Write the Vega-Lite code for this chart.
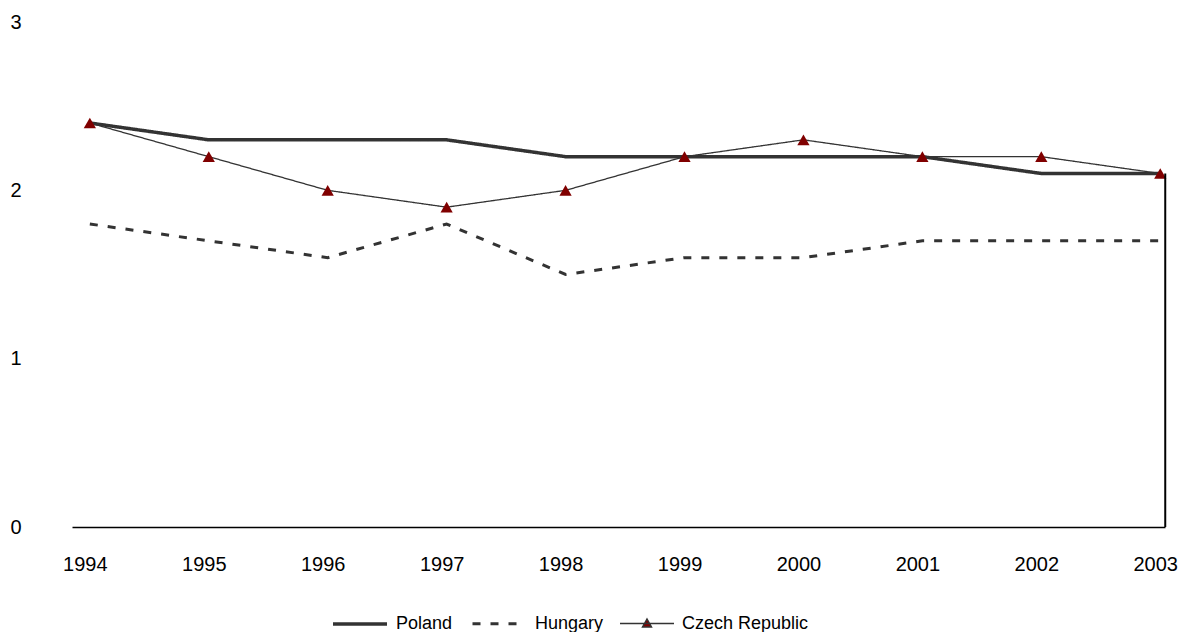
{
  "$schema": "https://vega.github.io/schema/vega-lite/v6.json",
  "autosize": {"type": "none"},
  "width": 1093,
  "height": 505,
  "padding": {"left": 72, "top": 22, "right": 16, "bottom": 105},
  "background": "white",
  "config": {
    "view": {"stroke": null},
    "font": "Liberation Sans",
    "axis": {"grid": false, "labelFont": "Liberation Sans", "labelColor": "#000000"},
    "legend": {"labelFont": "Liberation Sans"}
  },
  "data": {
    "values": [
      {"year": 1994, "country": "Poland", "value": 2.4},
      {"year": 1995, "country": "Poland", "value": 2.3},
      {"year": 1996, "country": "Poland", "value": 2.3},
      {"year": 1997, "country": "Poland", "value": 2.3},
      {"year": 1998, "country": "Poland", "value": 2.2},
      {"year": 1999, "country": "Poland", "value": 2.2},
      {"year": 2000, "country": "Poland", "value": 2.2},
      {"year": 2001, "country": "Poland", "value": 2.2},
      {"year": 2002, "country": "Poland", "value": 2.1},
      {"year": 2003, "country": "Poland", "value": 2.1},
      {"year": 1994, "country": "Hungary", "value": 1.8},
      {"year": 1995, "country": "Hungary", "value": 1.7},
      {"year": 1996, "country": "Hungary", "value": 1.6},
      {"year": 1997, "country": "Hungary", "value": 1.8},
      {"year": 1998, "country": "Hungary", "value": 1.5},
      {"year": 1999, "country": "Hungary", "value": 1.6},
      {"year": 2000, "country": "Hungary", "value": 1.6},
      {"year": 2001, "country": "Hungary", "value": 1.7},
      {"year": 2002, "country": "Hungary", "value": 1.7},
      {"year": 2003, "country": "Hungary", "value": 1.7},
      {"year": 1994, "country": "Czech Republic", "value": 2.4},
      {"year": 1995, "country": "Czech Republic", "value": 2.2},
      {"year": 1996, "country": "Czech Republic", "value": 2.0},
      {"year": 1997, "country": "Czech Republic", "value": 1.9},
      {"year": 1998, "country": "Czech Republic", "value": 2.0},
      {"year": 1999, "country": "Czech Republic", "value": 2.2},
      {"year": 2000, "country": "Czech Republic", "value": 2.3},
      {"year": 2001, "country": "Czech Republic", "value": 2.2},
      {"year": 2002, "country": "Czech Republic", "value": 2.2},
      {"year": 2003, "country": "Czech Republic", "value": 2.1}
    ]
  },
  "layer": [
    {
      "mark": {"type": "line", "strokeCap": "butt"},
      "encoding": {
        "x": {
          "field": "year", "type": "quantitative",
          "scale": {"domain": [1993.85, 2003.04], "nice": false, "zero": false},
          "axis": {
            "title": null, "values": [1994,1995,1996,1997,1998,1999,2000,2001,2002,2003],
            "format": "d", "ticks": false, "labelPadding": 27, "labelFontSize": 20,
            "labelOffset": -5, "domainColor": "#000000", "domainWidth": 1.5, "labelFlush": false
          }
        },
        "y": {
          "field": "value", "type": "quantitative",
          "scale": {"domain": [0, 3], "nice": false},
          "axis": {
            "title": null, "values": [0,1,2,3], "format": "d", "domain": false, "ticks": false,
            "labelAlign": "left", "labelPadding": 62, "labelFontSize": 20
          }
        },
        "color": {
          "field": "country", "type": "nominal",
          "scale": {"domain": ["Poland", "Hungary", "Czech Republic"], "range": ["#333333", "#333333", "#333333"]},
          "legend": {
            "title": null, "orient": "none", "direction": "horizontal",
            "legendX": 259, "legendY": 573,
            "symbolType": "stroke", "symbolSize": 2916, "labelFontSize": 18,
            "labelColor": "#000000", "labelOffset": 7, "columnPadding": 13,
            "symbolFillColor": "#800000",
            "encode": {
              "symbols": {
                "update": {
                  "shape": {"signal": "datum.value === 'Czech Republic' ? 'M-1,0H1M0,-0.17L0.17,0.13L-0.17,0.13Z' : 'stroke'"},
                  "fill": {"signal": "datum.value === 'Czech Republic' ? '#800000' : 'transparent'"},
                  "strokeWidth": {"signal": "datum.value === 'Czech Republic' ? 1.3 : 3"}
                }
              }
            }
          }
        },
        "strokeDash": {
          "field": "country", "type": "nominal",
          "scale": {"domain": ["Poland", "Hungary", "Czech Republic"], "range": [[1, 0], [8, 10], [1, 0]]},
          "legend": null
        },
        "strokeWidth": {
          "field": "country", "type": "nominal",
          "scale": {"type": "ordinal", "domain": ["Poland", "Hungary", "Czech Republic"], "range": [3.5, 3, 1.3]},
          "legend": null
        }
      }
    },
    {
      "transform": [{"filter": "datum.country === 'Czech Republic'"}],
      "mark": {"type": "point", "shape": "triangle-up", "filled": true, "color": "#800000", "size": 150, "opacity": 1},
      "encoding": {
        "x": {"field": "year", "type": "quantitative"},
        "y": {"field": "value", "type": "quantitative"}
      }
    },
    {
      "transform": [{"filter": "datum.country === 'Poland' && datum.year === 2003"}],
      "mark": {"type": "rule", "color": "#000000", "strokeWidth": 2, "xOffset": 5},
      "encoding": {
        "x": {"field": "year", "type": "quantitative"},
        "y": {"field": "value", "type": "quantitative"},
        "y2": {"datum": 0}
      }
    }
  ]
}
